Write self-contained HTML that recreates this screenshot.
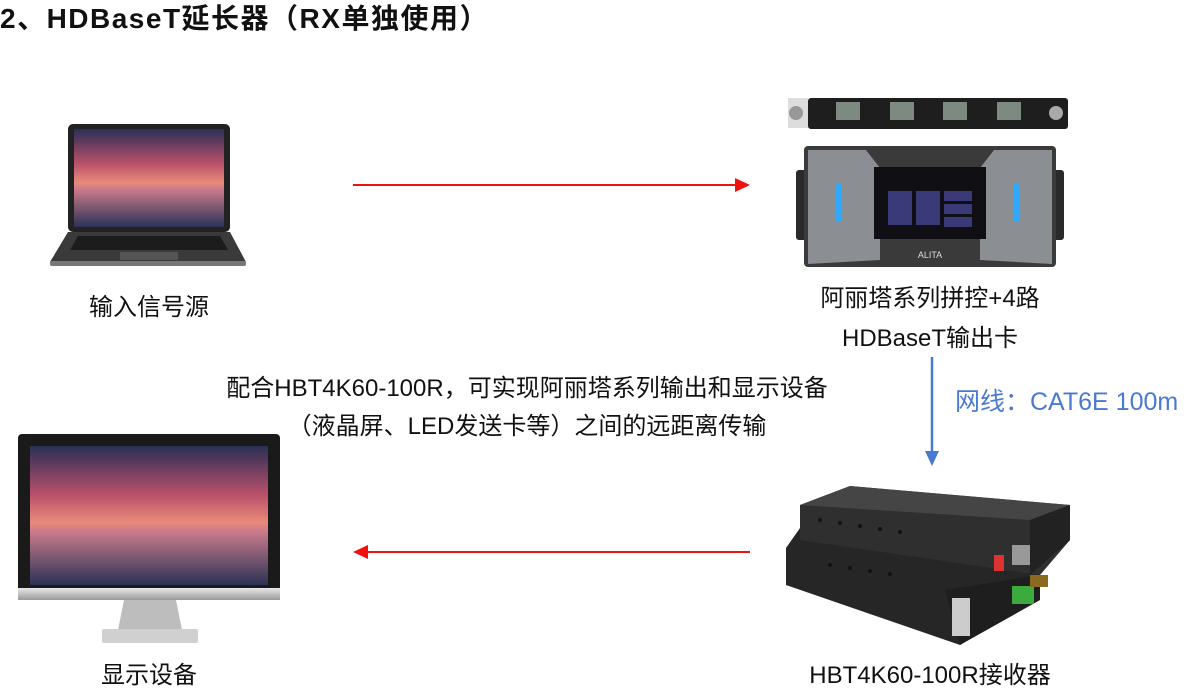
<!DOCTYPE html>
<html><head><meta charset="utf-8"><style>
body{margin:0;width:1200px;height:688px;background:#fff;position:relative;overflow:hidden;font-family:"Liberation Sans","Noto Sans CJK SC",sans-serif;color:#111}
.t{position:absolute;white-space:nowrap;font-size:24px;line-height:28px}
.c{transform:translateX(-50%)}
</style></head><body>
<div class="t" style="left:0px;top:2px;font-size:28px;line-height:34px;font-weight:bold;letter-spacing:1.5px">2、HDBaseT延长器（RX单独使用）</div>

<svg width="1200" height="688" style="position:absolute;left:0;top:0">
<defs>
<linearGradient id="sky" x1="0" y1="0" x2="0" y2="1">
<stop offset="0" stop-color="#2a2f55"/><stop offset="0.35" stop-color="#b9506a"/><stop offset="0.55" stop-color="#e98a7a"/><stop offset="0.62" stop-color="#c77a8a"/><stop offset="1" stop-color="#2b3256"/></linearGradient>
<linearGradient id="sil" x1="0" y1="0" x2="0" y2="1"><stop offset="0" stop-color="#e8e8e8"/><stop offset="1" stop-color="#9a9a9a"/></linearGradient>
</defs>
<!-- laptop -->
<rect x="68" y="124" width="162" height="108" rx="5" fill="#222"/>
<rect x="74" y="129" width="150" height="98" fill="url(#sky)"/>
<polygon points="68,232 230,232 246,262 50,262" fill="#3a3a3a"/>
<rect x="50" y="261" width="196" height="5" rx="2" fill="#777"/>
<polygon points="78,236 220,236 228,250 70,250" fill="#1c1c1c"/>
<rect x="120" y="252" width="58" height="8" fill="#555"/>
<!-- red arrows -->
<line x1="353" y1="185" x2="738" y2="185" stroke="#f01010" stroke-width="2"/>
<polygon points="750,185 735,178 735,192" fill="#f01010"/>
<line x1="365" y1="552" x2="750" y2="552" stroke="#f01010" stroke-width="2"/>
<polygon points="353,552 368,545 368,559" fill="#f01010"/>
<!-- blue arrow -->
<line x1="932" y1="357" x2="932" y2="452" stroke="#4a7ad0" stroke-width="2.5"/>
<polygon points="932,466 925,451 939,451" fill="#4a7ad0"/>
<!-- card -->
<rect x="788" y="98" width="20" height="30" fill="#ddd"/>
<circle cx="796" cy="113" r="7" fill="#999"/>
<rect x="808" y="98" width="260" height="31" rx="3" fill="#1e1e1e"/>
<circle cx="1056" cy="113" r="7" fill="#aaa"/>
<g fill="#7c8a80"><rect x="836" y="102" width="24" height="18"/><rect x="890" y="102" width="24" height="18"/><rect x="943" y="102" width="24" height="18"/><rect x="997" y="102" width="24" height="18"/></g>
<!-- processor -->
<rect x="796" y="170" width="14" height="70" rx="3" fill="#2a2a2a"/>
<rect x="1050" y="170" width="14" height="70" rx="3" fill="#2a2a2a"/>
<rect x="804" y="146" width="252" height="121" rx="4" fill="#3a3a3a"/>
<polygon points="808,150 866,150 880,168 880,260 808,264" fill="#8b8e92"/>
<polygon points="1052,150 994,150 980,168 980,260 1052,264" fill="#8b8e92"/>
<rect x="874" y="167" width="112" height="72" fill="#0f0f14"/>
<rect x="888" y="191" width="24" height="34" fill="#3b3a78"/>
<rect x="916" y="191" width="24" height="34" fill="#3b3a78"/>
<rect x="944" y="191" width="28" height="10" fill="#3b3a78"/>
<rect x="944" y="204" width="28" height="10" fill="#3b3a78"/>
<rect x="944" y="217" width="28" height="10" fill="#3b3a78"/>
<g fill="#2fa8ff"><rect x="836" y="183" width="6" height="38"/><rect x="1014" y="183" width="6" height="38"/></g>
<text x="930" y="258" fill="#ddd" font-size="9" text-anchor="middle" font-family="Liberation Sans">ALITA</text>
<!-- monitor -->
<rect x="18" y="434" width="262" height="164" rx="4" fill="#1a1a1a"/>
<rect x="30" y="446" width="238" height="139" fill="url(#sky)"/>
<rect x="18" y="588" width="262" height="12" fill="url(#sil)"/>
<polygon points="124,600 176,600 182,630 118,630" fill="#bdbdbd"/>
<rect x="102" y="629" width="96" height="14" rx="2" fill="#d0d0d0"/>
<!-- RX receivers: bottom box -->
<polygon points="786,548 800,528 1040,560 1040,595 960,645 786,585" fill="#262626"/>
<polygon points="945,590 1040,575 1040,600 960,645" fill="#1e1e1e"/>
<!-- top box -->
<polygon points="800,505 850,486 1070,505 1070,540 1040,575 800,540" fill="#2f2f2f"/>
<polygon points="800,505 850,486 1070,505 1030,520" fill="#454545"/>
<polygon points="1030,520 1070,505 1070,540 1030,575" fill="#222"/>
<g fill="#111"><circle cx="820" cy="520" r="2"/><circle cx="840" cy="523" r="2"/><circle cx="860" cy="526" r="2"/><circle cx="880" cy="529" r="2"/><circle cx="900" cy="532" r="2"/><circle cx="830" cy="565" r="2"/><circle cx="850" cy="568" r="2"/><circle cx="870" cy="571" r="2"/><circle cx="890" cy="574" r="2"/></g>
<rect x="1012" y="545" width="18" height="20" fill="#999"/>
<rect x="994" y="555" width="10" height="16" fill="#d33"/>
<rect x="1012" y="586" width="22" height="18" fill="#3caa3c"/>
<rect x="952" y="598" width="18" height="38" fill="#ccc"/>
<rect x="1030" y="575" width="18" height="12" fill="#8a6a20"/>
</svg>

<div class="t c" style="left:149px;top:294px">输入信号源</div>
<div class="t c" style="left:930px;top:285px">阿丽塔系列拼控+4路</div>
<div class="t c" style="left:930px;top:325px">HDBaseT输出卡</div>
<div class="t" style="left:955px;top:388px;color:#4a7ad0;font-size:25px">网线：CAT6E 100m</div>
<div class="t c" style="left:527px;top:375px">配合HBT4K60-100R，可实现阿丽塔系列输出和显示设备</div>
<div class="t c" style="left:527px;top:413px">（液晶屏、LED发送卡等）之间的远距离传输</div>
<div class="t c" style="left:149px;top:662px">显示设备</div>
<div class="t c" style="left:930px;top:662px">HBT4K60-100R接收器</div>
</body></html>
